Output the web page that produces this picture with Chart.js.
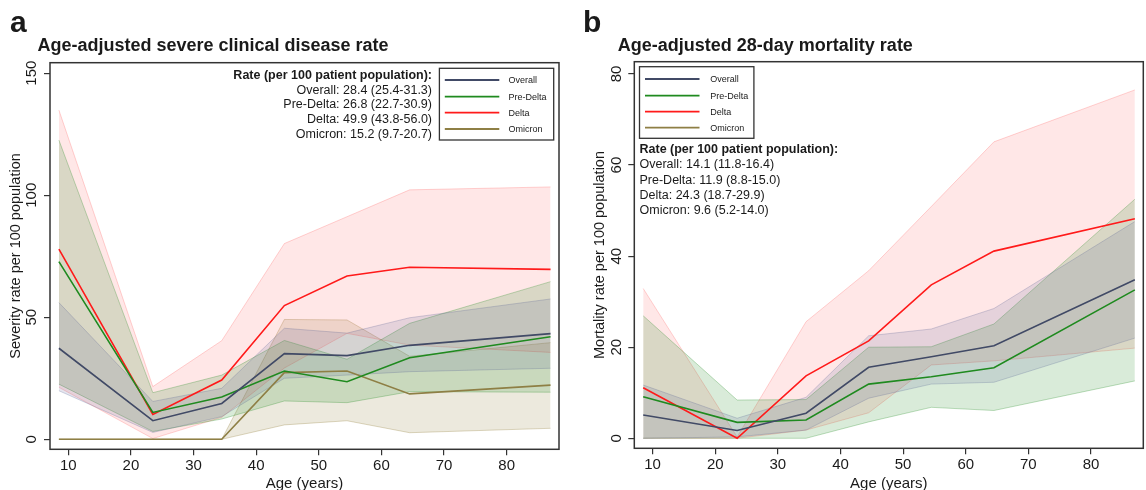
<!DOCTYPE html>
<html><head><meta charset="utf-8">
<script src="https://cdn.jsdelivr.net/npm/chart.js@4.4.1/dist/chart.umd.min.js"></script>
<style>
html,body{margin:0;padding:0;background:#fff;}
#wrap{position:relative;width:1146px;height:490px;overflow:hidden;font-family:"Liberation Sans",Arial,sans-serif;}
canvas{position:absolute;top:0;}
#ca{left:0;} #cb{left:573px;}
#ov{position:absolute;left:0;top:0;}
</style></head><body>
<div id="wrap">
<canvas id="ca" width="573" height="490" style="width:573px;height:490px"></canvas>
<canvas id="cb" width="573" height="490" style="width:573px;height:490px"></canvas>
<svg id="ov" width="1146" height="490" xmlns="http://www.w3.org/2000/svg"></svg>
</div>
<script>
// ---------- data ----------
const ages = [8.5, 23.5, 34.5, 44.5, 54.5, 64.5, 87];
const seriesNames = ['Overall', 'Pre-Delta', 'Delta', 'Omicron'];
const xTicks = [10, 20, 30, 40, 50, 60, 70, 80];
const sevYTicks = [0, 50, 100, 150];
const mortYTicks = [0, 20, 40, 60, 80];

// Panel a: severity rate per 100 population
const sevOverall     = [37.3, 7.6, 14.7, 35.1, 34.3, 38.5, 43.3];
const sevOverallLo   = [19.9, 2.8, 9.3, 25.0, 26.3, 27.7, 29.1];
const sevOverallHi   = [56.0, 15.5, 20.9, 45.5, 43.5, 49.8, 57.5];
const sevPreDelta    = [72.8, 11.0, 17.3, 28.0, 23.6, 33.4, 42.0];
const sevPreDeltaLo  = [22.6, 3.2, 8.3, 15.7, 15.0, 19.5, 19.3];
const sevPreDeltaHi  = [122.6, 19.1, 26.3, 40.5, 32.8, 47.5, 64.6];
const sevDelta       = [77.9, 10.2, 24.3, 54.8, 66.9, 70.5, 69.6];
const sevDeltaLo     = [21.3, 0.3, 9.0, 29.2, 43.4, 38.6, 35.6];
const sevDeltaHi     = [134.9, 21.6, 40.4, 80.2, 91.2, 102.2, 103.4];
const sevOmicron     = [0, 0, 0, 27.3, 28.0, 18.6, 22.2];
const sevOmicronLo   = [0, 0, 0, 5.9, 7.6, 2.7, 4.5];
const sevOmicronHi   = [0, 0, 0, 49.1, 48.9, 34.0, 39.6];

// Panel b: 28-day mortality rate per 100 population
const mortOverall    = [5.1, 1.7, 5.5, 15.6, 17.9, 20.3, 34.8];
const mortOverallLo  = [0, 0.3, 1.8, 8.8, 11.9, 12.3, 22.0];
const mortOverallHi  = [11.7, 4.4, 9.0, 22.5, 24.0, 28.5, 47.6];
const mortPreDelta   = [9.1, 3.5, 4.0, 11.9, 13.5, 15.5, 32.6];
const mortPreDeltaLo = [0, 0, 0, 3.6, 6.8, 6.1, 12.6];
const mortPreDeltaHi = [26.9, 8.4, 8.5, 20.0, 20.1, 25.1, 52.5];
const mortDelta      = [11.1, 0, 13.7, 21.4, 33.7, 41.1, 48.2];
const mortDeltaLo    = [0, 0, 1.8, 5.6, 16.1, 17.0, 19.8];
const mortDeltaHi    = [32.9, 0.3, 25.6, 36.8, 50.9, 65.1, 76.5];
const mortOmicron    = [null, null, null, null, null, null, null];

const sevRateHead = 'Rate (per 100 patient population):';
const sevRateText = ['Overall: 28.4 (25.4-31.3)', 'Pre-Delta: 26.8 (22.7-30.9)', 'Delta: 49.9 (43.8-56.0)', 'Omicron: 15.2 (9.7-20.7)'];
const mortRateText = ['Overall: 14.1 (11.8-16.4)', 'Pre-Delta: 11.9 (8.8-15.0)', 'Delta: 24.3 (18.7-29.9)', 'Omicron: 9.6 (5.2-14.0)'];

// ---------- styles ----------
const FONT = '"Liberation Sans", Arial, Helvetica, sans-serif';
const lineColors = ['#414a66', '#1f8a1f', '#ff1a1a', '#8e7f45'];
const fillColors = ['rgba(80,90,145,0.15)', 'rgba(30,135,30,0.17)', 'rgba(255,40,40,0.11)', 'rgba(145,125,55,0.17)'];
const edgeColors = ['rgba(80,90,145,0.25)', 'rgba(30,135,30,0.28)', 'rgba(255,40,40,0.2)', 'rgba(145,125,55,0.3)'];

const pts = arr => ages.map((a, i) => ({x: a, y: arr[i]}));

const decor = {
  id: 'decor',
  afterDraw(chart, args, o) {
    const {ctx, chartArea: ca} = chart;
    const ys = chart.scales.y;
    ctx.save();
    ctx.strokeStyle = '#333';
    ctx.lineWidth = 1.5;
    ctx.strokeRect(ca.left, ca.top, ca.right - ca.left, ca.bottom - ca.top);
    ctx.fillStyle = '#1a1a1a';
    ctx.textAlign = 'center';
    ctx.textBaseline = 'alphabetic';
    ctx.font = '15px ' + FONT;
    ys.ticks.forEach(t => {
      const y = ys.getPixelForValue(t.value);
      ctx.save();
      ctx.translate(ca.left - o.tickOffset, y);
      ctx.rotate(-Math.PI / 2);
      ctx.fillText(String(t.value), 0, 0);
      ctx.restore();
    });
    ctx.font = '14.5px ' + FONT;
    ctx.save();
    ctx.translate(ca.left - o.yTitleOffset, (ca.top + ca.bottom) / 2);
    ctx.rotate(-Math.PI / 2);
    ctx.fillText(o.yTitle, 0, 0);
    ctx.restore();
    ctx.font = '15px ' + FONT;
    ctx.fillText(o.xTitle, (ca.left + ca.right) / 2, o.xTitleY);
    ctx.restore();
  }
};

function makeChart(id, series, yTicks, yMin, yMax, pad, xH, yTitle) {
  const datasets = [];
  series.forEach((s, i) => {
    if (s.lo) {
      datasets.push({data: pts(s.lo), borderColor: edgeColors[i], borderWidth: 1, pointRadius: 0, fill: false, tension: 0, order: 2});
      datasets.push({data: pts(s.hi), borderColor: edgeColors[i], borderWidth: 1, pointRadius: 0, fill: '-1', backgroundColor: fillColors[i], tension: 0, order: 2});
    }
  });
  series.forEach((s, i) => {
    datasets.push({data: pts(s.mid), borderColor: lineColors[i], borderWidth: 1.6, pointRadius: 0, fill: false, tension: 0, order: 1});
  });
  return new Chart(document.getElementById(id), {
    type: 'line',
    data: {datasets},
    plugins: [decor],
    options: {
      responsive: false, animation: false, devicePixelRatio: 1,
      layout: {padding: pad},
      plugins: {
        legend: {display: false}, tooltip: {enabled: false},
        decor: {tickOffset: 13.7, yTitleOffset: 30, yTitle, xTitle: 'Age (years)', xTitleY: 487.7}
      },
      scales: {
        x: {
          type: 'linear', min: 7.08, max: 88.35,
          afterBuildTicks: s => { s.ticks = xTicks.map(v => ({value: v})); },
          afterFit: s => { s.height = xH; },
          ticks: {font: {size: 15, family: FONT}, color: '#1a1a1a', padding: 2, maxRotation: 0, autoSkip: false},
          grid: {display: true, drawOnChartArea: false, drawTicks: true, tickLength: 6, color: '#333', lineWidth: 1.2},
          border: {display: false}
        },
        y: {
          type: 'linear', min: yMin, max: yMax,
          afterBuildTicks: s => { s.ticks = yTicks.map(v => ({value: v})); },
          afterFit: s => { s.width = pad.yW; },
          ticks: {display: false},
          grid: {display: true, drawOnChartArea: false, drawTicks: true, tickLength: 6, color: '#333', lineWidth: 1.2},
          border: {display: false}
        }
      }
    }
  });
}

makeChart('ca', [
  {mid: sevOverall, lo: sevOverallLo, hi: sevOverallHi},
  {mid: sevPreDelta, lo: sevPreDeltaLo, hi: sevPreDeltaHi},
  {mid: sevDelta, lo: sevDeltaLo, hi: sevDeltaHi},
  {mid: sevOmicron, lo: sevOmicronLo, hi: sevOmicronHi}
], sevYTicks, -4.1, 154.3, {left: 0, right: 14, top: 62.7, bottom: 0, yW: 50}, 40.7, 'Severity rate per 100 population');

makeChart('cb', [
  {mid: mortOverall, lo: mortOverallLo, hi: mortOverallHi},
  {mid: mortPreDelta, lo: mortPreDeltaLo, hi: mortPreDeltaHi},
  {mid: mortDelta, lo: mortDeltaLo, hi: mortDeltaHi},
  {mid: mortOmicron}
], mortYTicks, -2.2, 82.7, {left: 0, right: 2.7, top: 61.7, bottom: 0, yW: 61.3}, 41.7, 'Mortality rate per 100 population');

// ---------- overlay text ----------
const NS = 'http://www.w3.org/2000/svg';
const ov = document.getElementById('ov');
function el(tag, attrs, text) {
  const e = document.createElementNS(NS, tag);
  for (const k in attrs) e.setAttribute(k, attrs[k]);
  if (text !== undefined) e.textContent = text;
  ov.appendChild(e);
  return e;
}
function t(x, y, s, size, weight, anchor) {
  el('text', {x, y, 'font-family': FONT, 'font-size': size, 'font-weight': weight || 'normal', 'text-anchor': anchor || 'start', fill: '#1a1a1a'}, s);
}
function legend(x, y, w, h, lx1, lx2, tx, rows) {
  el('rect', {x, y, width: w, height: h, fill: '#fff', stroke: '#333', 'stroke-width': 1.3});
  seriesNames.forEach((n, i) => {
    el('line', {x1: lx1, x2: lx2, y1: rows[i], y2: rows[i], stroke: lineColors[i], 'stroke-width': 1.8});
    t(tx, rows[i] + 3.2, n, 9, 'normal', 'start');
  });
}
// panel a
t(10, 31.5, 'a', 30, 'bold');
t(37.4, 50.7, 'Age-adjusted severe clinical disease rate', 18, 'bold');
t(432, 78.5, sevRateHead, 12.5, 'bold', 'end');
[93.5, 108.3, 123, 137.8].forEach((y, i) => t(432, y, sevRateText[i], 12.5, 'normal', 'end'));
legend(439.4, 68.3, 114.3, 71.7, 444.8, 499.3, 508.4, [80, 96.7, 112.7, 129]);
// panel b
t(583, 31.5, 'b', 30, 'bold');
t(617.8, 50.7, 'Age-adjusted 28-day mortality rate', 18, 'bold');
legend(639.5, 66.7, 114.4, 71.6, 645, 699.5, 710.3, [79, 95.7, 111.7, 127.7]);
t(639.5, 153.3, sevRateHead, 12.5, 'bold', 'start');
[168.3, 183.5, 198.5, 213.8].forEach((y, i) => t(639.5, y, mortRateText[i], 12.5, 'normal', 'start'));
</script>
</body></html>
